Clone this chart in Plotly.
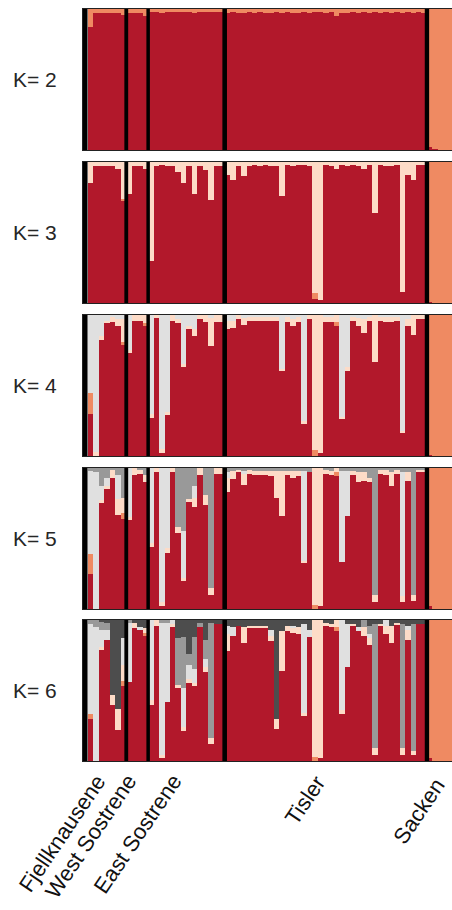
import plotly.graph_objects as go

# ---------------- data ----------------
populations = ["Fjellknausene", "West Sostrene", "East Sostrene", "Tisler", "Sacken"]
pop_sizes = [7, 4, 14, 37, 5]
k_values = [2, 3, 4, 5, 6]
k_labels = ["K= 2", "K= 3", "K= 4", "K= 5", "K= 6"]
# cluster order (bottom -> top): red, salmon, peach, light grey, mid grey, dark grey
cluster_colors = ["#b2182b", "#ef8a62", "#fddbc7", "#e0e0e0", "#999999", "#4d4d4d"]

# Each list: Fjellknausene(7) | West Sostrene(4) | East Sostrene(14) | Tisler(37) | Sacken(5)
# red cluster = 1 - sum(other clusters)

k2_salmon = [.13, .03, .03, .03, .03, .03, .04,
             .03, .03, .03, .05,
             .02, .02, .03, .02, .02, .02, .02, .02, .03, .02, .02, .02, .02, .02,
             .03, .02, .03, .03, .02, .03, .02, .03, .03, .02,
             .03, .02, .03, .03, .02, .03, .02, .02, .03, .02,
             .05, .03, .03, .02, .03, .02, .03, .02, .03, .02,
             .03, .02, .03, .02, .03, .02, .03,
             .98, .99, 1, 1, 1]

k3_salmon = [0, 0, 0, 0, 0, 0, .02,
             0, 0, 0, 0,
             0, 0, 0, 0, 0, 0, 0, 0, 0, 0, 0, 0, 0, 0,
             0, 0, 0, 0, 0, 0, 0, 0, 0, 0,
             0, 0, 0, 0, 0, 0, .04, 0, 0, 0,
             0, 0, 0, 0, 0, 0, 0, 0, 0, 0,
             0, 0, 0, 0, 0, 0, 0,
             .99, 1, 1, 1, 1]
k3_peach = [.15, .03, .03, .03, .03, .05, .26,
            .23, .03, .03, .05,
            .70, .03, .02, .03, .03, .07, .15, .03, .23, .03, .06, .27, .03, .03,
            .09, .13, .03, .10, .03, .02, .03, .02, .03, .03,
            .24, .02, .03, .02, .02, .03, .93, .98, .02, .03,
            .05, .02, .03, .02, .03, .05, .02, .36, .02, .03,
            .03, .02, .92, .09, .13, .02, .02,
            0, 0, 0, 0, 0]

k4_salmon = [.15, 0, 0, 0, 0, 0, .02,
             0, 0, 0, .02,
             0, 0, 0, 0, 0, 0, 0, 0, 0, 0, 0, 0, 0, 0,
             0, 0, 0, 0, 0, 0, 0, 0, 0, 0,
             0, 0, 0, 0, 0, 0, .04, 0, 0, 0,
             .03, 0, 0, 0, 0, 0, 0, 0, 0, 0,
             0, 0, 0, 0, 0, 0, 0,
             .99, 1, 1, 1, 1]
k4_peach = [0, .03, .03, .02, .04, .05, .16,
            .02, .04, .04, .06,
            .03, .02, .03, .02, .04, .03, .02, .02, .05, .03, .05, .20, .05, .05,
            .06, .05, .03, .05, .03, .03, .03, .03, .03, .03,
            .02, .04, .05, .04, .02, .03, .96, .98, .04, .04,
            .05, .02, .03, .03, .06, .10, .03, .33, .03, .04,
            .04, .03, .02, .05, .14, .03, .03,
            0, 0, 0, 0, 0]
k4_lgray = [.55, .97, .15, .04, .01, .03, .03,
            .25, 0, 0, 0,
            .70, 0, .95, .69, 0, .03, .35, .08, .10, 0, 0, .02, 0, 0,
            .04, .04, 0, .02, .01, .01, .01, .01, .01, .01,
            .38, .01, .03, .01, .75, 0, 0, 0, .01, .01,
            0, .72, .37, .01, .02, .03, .01, 0, .01, .01,
            .01, .01, .82, .03, 0, 0, 0,
            0, 0, 0, 0, 0]

k5_salmon = [.14, 0, 0, 0, 0, 0, .04,
             0, 0, 0, 0,
             0, 0, 0, 0, 0, 0, 0, 0, 0, 0, 0, 0, 0, 0,
             0, 0, 0, 0, 0, 0, 0, 0, 0, 0,
             0, 0, 0, 0, 0, 0, .03, 0, 0, 0,
             .03, 0, 0, 0, 0, 0, 0, 0, 0, 0,
             0, 0, 0, 0, 0, 0, 0,
             .98, 1, 1, 1, 1]
k5_peach = [0, 0, .02, .02, .06, .11, .11,
            .02, .05, .03, .05,
            .03, .03, .03, .03, .03, .04, .02, .02, .07, .05, .07, .05, .04, .04,
            .10, .06, .02, .08, .03, .03, .03, .03, .04, .19,
            .32, .03, .05, .04, .01, 0, .97, .98, .03, .03,
            .03, 0, 0, .03, .07, .06, .03, .05, .03, .04,
            .10, .03, .04, .06, .04, .02, .02,
            0, 0, 0, 0, 0]
k5_lgray = [.59, .97, .10, .06, 0, .17, 0,
            .35, 0, 0, 0,
            .53, 0, .95, .57, 0, 0, .33, 0, .08, 0, 0, 0, 0, 0,
            .04, 0, 0, .02, 0, 0, 0, 0, 0, 0,
            0, 0, 0, 0, .64, 0, 0, 0, 0, 0,
            0, .65, .32, 0, 0, 0, 0, 0, 0, 0,
            0, 0, .88, 0, 0, 0, 0,
            0, 0, 0, 0, 0]
k5_mgray = [.02, .03, .13, .07, .01, .05, .21,
            0, 0, .01, .05,
            0, 0, 0, 0, 0, .42, .45, .22, .13, 0, .19, .85, 0, 0,
            .03, .02, .01, .02, .01, .02, .02, .02, .02, .02,
            .02, .02, .02, .02, .02, .03, 0, 0, .01, .02,
            0, .02, .02, .02, .03, .03, .07, .90, .01, .01,
            .03, .01, .03, .03, .90, .01, .01,
            0, 0, 0, 0, 0]

k6_salmon = [.03, 0, 0, 0, 0, 0, .04,
             0, 0, 0, .02,
             0, 0, 0, 0, 0, 0, 0, 0, 0, 0, 0, 0, 0, 0,
             0, 0, 0, 0, 0, 0, 0, 0, 0, 0,
             0, 0, 0, 0, 0, 0, .03, 0, 0, 0,
             .03, 0, 0, 0, 0, 0, 0, 0, 0, 0,
             0, 0, 0, 0, 0, 0, 0,
             .98, 1, 1, 1, 1]
k6_peach = [0, 0, .02, 0, .07, .15, .11,
            0, .04, 0, .03,
            .03, .04, .02, 0, .02, .02, .03, .03, .02, 0, .04, .04, 0, 0,
            .12, 0, 0, .11, .01, .01, .01, .01, .04, .07,
            .28, .04, .03, .05, .02, 0, .97, .98, .02, .02,
            .05, .03, 0, .01, 0, .06, .05, .05, .01, .06,
            .12, .01, .05, .07, .03, 0, 0,
            0, 0, 0, 0, 0]
k6_lgray = [.64, .95, .12, .07, 0, 0, .19,
            .42, 0, .02, 0,
            .57, 0, .94, .56, .03, 0, .28, .10, .10, 0, .05, 0, 0, 0,
            .06, .06, 0, 0, 0, 0, 0, 0, .04, 0,
            0, 0, .02, 0, .63, .05, 0, 0, 0, 0,
            0, .64, .30, 0, .03, 0, .03, 0, 0, .04,
            0, 0, 0, .03, 0, 0, 0,
            0, 0, 0, 0, 0]
k6_mgray = [.03, .05, .06, .05, 0, 0, 0,
            .02, 0, 0, 0,
            0, 0, .02, .02, 0, .33, .36, .08, .23, .03, .14, .82, 0, 0,
            0, 0, 0, 0, 0, 0, 0, 0, 0, 0,
            0, 0, 0, 0, 0, 0, 0, 0, 0, 0,
            0, 0, 0, 0, 0, .05, .06, .88, 0, 0,
            0, 0, .88, 0, .90, 0, 0,
            0, 0, 0, 0, 0]
k6_dgray = [0, 0, .01, .02, .53, .63, .13,
            0, .02, .05, .06,
            0, 0, 0, 0, 0, .13, .12, .24, .12, .02, .14, .02, .03, .03,
            .04, .05, .04, .05, .04, .04, .04, .04, .07, .70,
            .08, .04, .04, .05, .03, .07, 0, 0, .02, .03,
            0, 0, .03, .03, .05, 0, .04, .03, .03, 0,
            .04, .02, .03, .04, .03, .03, .03,
            0, 0, 0, 0, 0]

panel_clusters = [
    [k2_salmon],
    [k3_salmon, k3_peach],
    [k4_salmon, k4_peach, k4_lgray],
    [k5_salmon, k5_peach, k5_lgray, k5_mgray],
    [k6_salmon, k6_peach, k6_lgray, k6_mgray, k6_dgray],
]

# ---------------- layout geometry (pixels) ----------------
FIG_W, FIG_H = 452, 910
PLOT_L = 83
UNIT = 5.467                       # px per individual
X_LEFT = -1.415
X_RIGHT = X_LEFT + (FIG_W - PLOT_L) / UNIT
panel_tops = [9, 162, 315, 468, 620]
PANEL_H = 141

n = sum(pop_sizes)
idx = list(range(n))

fig = go.Figure()
layout = dict(
    width=FIG_W, height=FIG_H,
    margin=dict(l=PLOT_L, r=0, t=0, b=0),
    paper_bgcolor="white", plot_bgcolor="white",
    barmode="stack", bargap=0, showlegend=False,
    font=dict(family="Liberation Sans, Arial, sans-serif", color="#1a1a1a"),
)

boundaries = []
acc = 0
for s in pop_sizes[:-1]:
    acc += s
    boundaries.append(acc - 0.5)
sep_half = [0.35, 0.32, 0.42, 0.40]

shapes = []
annotations = []
for r, K in enumerate(k_values):
    sfx = "" if r == 0 else str(r + 1)
    xa, ya = "x" + sfx, "y" + sfx
    others = panel_clusters[r]
    red = [max(0.0, round(1 - sum(o[i] for o in others), 4)) for i in idx]
    comps = [red] + others
    for c, vals in enumerate(comps):
        fig.add_trace(go.Bar(
            x=idx, y=vals, width=1.0, xaxis=xa, yaxis=ya,
            marker=dict(color=cluster_colors[c], line=dict(width=0)),
            hoverinfo="skip",
        ))
    top = panel_tops[r]
    bot = top + PANEL_H
    layout["xaxis" + sfx] = dict(
        domain=[0, 1], anchor=ya, range=[X_LEFT, X_RIGHT],
        showticklabels=False, ticks="", showgrid=False, zeroline=False,
        showline=True, mirror=True, linecolor="#222222", linewidth=1,
    )
    layout["yaxis" + sfx] = dict(
        domain=[1 - bot / FIG_H, 1 - top / FIG_H], anchor=xa, range=[0, 1],
        showticklabels=False, ticks="", showgrid=False, zeroline=False,
        showline=True, mirror=True, linecolor="#222222", linewidth=1,
    )
    # left black band
    shapes.append(dict(type="rect", xref=xa, yref=ya + " domain",
                       x0=X_LEFT, x1=-0.58, y0=0, y1=1,
                       fillcolor="black", line=dict(width=0), layer="above"))
    for b, h in zip(boundaries, sep_half):
        shapes.append(dict(type="rect", xref=xa, yref=ya + " domain",
                           x0=b - h, x1=b + h, y0=0, y1=1,
                           fillcolor="black", line=dict(width=0), layer="above"))
    annotations.append(dict(
        text=k_labels[r], xref="paper", yref="paper",
        x=(35 - PLOT_L) / (FIG_W - PLOT_L), y=1 - (top + PANEL_H / 2) / FIG_H,
        xanchor="center", yanchor="middle", showarrow=False,
        font=dict(size=21, color="#262626"),
    ))

# population labels (rotated), anchored at their upper-right end
label_px = [113, 144, 190, 333, 452]
label_py = [767, 767, 767, 769, 771]
for name, px, py in zip(populations, label_px, label_py):
    annotations.append(dict(
        text=name, xref="paper", yref="paper",
        x=(px - PLOT_L) / (FIG_W - PLOT_L), y=1 - py / FIG_H,
        xanchor="right", yanchor="top", showarrow=False, textangle=-56,
        font=dict(size=22, color="#111111"),
    ))

layout["shapes"] = shapes
layout["annotations"] = annotations
fig.update_layout(**layout)
fig.write_html("out.html")
